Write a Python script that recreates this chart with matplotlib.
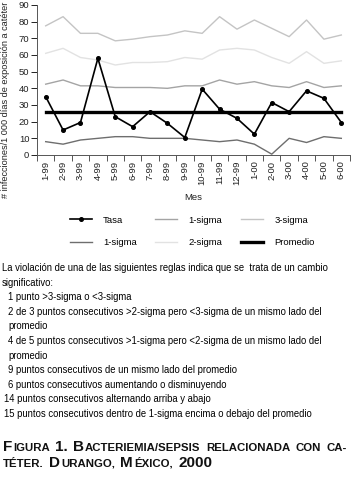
import matplotlib.pyplot as plt
import numpy as np

# Datos del gráfico de control
meses = ['1-99', '2-99', '3-99', '4-99', '5-99', '6-99', '7-99', '8-99', '9-99',
         '10-99', '11-99', '12-99', '1-00', '2-00', '3-00', '4-00', '5-00', '6-00']
tasa = [35, 15, 19.5, 58, 23, 17, 26, 19, 10.5, 39.5, 27.5, 22, 12.5, 31.5, 26, 38.5, 34, 19.5]
sigma3_sup = [77.5, 83, 73, 73, 68.5, 69.5, 71, 72, 74.5, 73, 83, 75.5, 81, 76, 71, 81, 69.5, 72]
sigma2_sup = [61, 64, 58.5, 57, 54, 55.5, 55.5, 56, 58.5, 57.5, 63, 64, 63, 58.5, 55, 62, 55, 56.5]
sigma1_sup = [42.5, 45, 41.5, 41.5, 40.5, 40.5, 40.5, 40, 41.5, 41.5, 45, 42.5, 44, 41.5, 40.5, 44, 40.5, 41.5]
sigma1_inf = [8, 6.5, 9, 10, 11, 11, 10, 10, 10, 9, 8, 9, 6.5, 0.5, 10, 7.5, 11, 10]
promedio = 25.6

reglas = [
    (0.006, 'La violación de una de las siguientes reglas indica que se  trata de un cambio'),
    (0.006, 'significativo:'),
    (0.023, '1 punto >3-sigma o <3-sigma'),
    (0.023, '2 de 3 puntos consecutivos >2-sigma pero <3-sigma de un mismo lado del'),
    (0.023, 'promedio'),
    (0.023, '4 de 5 puntos consecutivos >1-sigma pero <2-sigma de un mismo lado del'),
    (0.023, 'promedio'),
    (0.023, '9 puntos consecutivos de un mismo lado del promedio'),
    (0.023, '6 puntos consecutivos aumentando o disminuyendo'),
    (0.012, '14 puntos consecutivos alternando arriba y abajo'),
    (0.012, '15 puntos consecutivos dentro de 1-sigma encima o debajo del promedio'),
]

W, H = 353, 483
fig = plt.figure(figsize=(W / 100, H / 100), dpi=100)
plt.rcParams['font.family'] = ['Liberation Sans', 'DejaVu Sans']

ax = fig.add_axes([37 / W, 1 - 155 / H, 313 / W, 150 / H])
x = np.arange(len(meses))

l3, = ax.plot(x, sigma3_sup, color='#c4c4c4', lw=1.0, label='3-sigma')
l2, = ax.plot(x, sigma2_sup, color='#e2e2e2', lw=1.0, label='2-sigma')
l1s, = ax.plot(x, sigma1_sup, color='#a4a4a4', lw=1.0, label='1-sigma')
l1i, = ax.plot(x, sigma1_inf, color='#6e6e6e', lw=1.0, label='1-sigma')
lp, = ax.plot(x, [promedio] * len(x), color='black', lw=2.4, label='Promedio')
lt, = ax.plot(x, tasa, color='black', lw=1.2, marker='o', markersize=2.6, label='Tasa')

ax.set_xlim(-0.5, len(meses) - 0.5)
ax.set_ylim(0, 90)
ax.set_yticks(range(0, 91, 10))
ax.set_xticks(np.arange(-0.5, len(meses), 1.0))
ax.set_xticklabels([])
ax.set_xticks(x, minor=True)
ax.set_xticklabels(meses, minor=True, rotation=90)
ax.tick_params(axis='x', which='minor', length=0, pad=4, labelsize=6.8, colors='#222222')
ax.tick_params(axis='x', which='major', length=4, width=0.7, color='#555555')
ax.tick_params(axis='y', length=4, width=0.7, labelsize=6.8, pad=1.5, colors='#222222')
for s in ['top', 'right']:
    ax.spines[s].set_visible(False)
for s in ['left', 'bottom']:
    ax.spines[s].set_linewidth(0.7)
    ax.spines[s].set_color('#555555')

fig.text(6 / W, 1 - 198 / H, '# infecciones/1 000 días de exposición a catéter',
         rotation=90, ha='center', va='bottom', fontsize=6.6, color='#222222')
fig.text(193 / W, 1 - 197 / H, 'Mes', ha='center', va='center', fontsize=6.8, color='#222222')

leg = fig.legend([lt, l1i, l1s, l2, l3, lp],
                 ['Tasa', '1-sigma', '1-sigma', '2-sigma', '3-sigma', 'Promedio'],
                 loc='upper left', bbox_to_anchor=(66 / W, 1 - 212 / H), ncol=3,
                 frameon=False, fontsize=6.8, handlelength=2.3, handletextpad=1.2,
                 columnspacing=2.0, labelspacing=1.45, borderaxespad=0)

# Texto de reglas
y0 = 268
for i, (xx, linea) in enumerate(reglas):
    fig.text(xx, 1 - (y0 + i * 14.6) / H, linea, ha='left', va='center',
             fontsize=6.85, color='black')

# Leyenda de la figura en versalitas
renderer = fig.canvas.get_renderer()
grande, chica = 11.0, 8.2
lineas_titulo = [
    [('F', 1), ('IGURA', 0), (' ', 0), ('1. B', 1), ('ACTERIEMIA/SEPSIS', 0), (' ', 0),
     ('RELACIONADA', 0), (' ', 0), ('CON', 0), (' ', 0), ('CA-', 0)],
    [('TÉTER.', 0), (' ', 0), ('D', 1), ('URANGO,', 0), (' ', 0), ('M', 1), ('ÉXICO,', 0),
     (' ', 0), ('2000', 1)],
]
ys = [451, 467]
espacio = 4.8
for yl, partes in zip(ys, lineas_titulo):
    xp = 3.0
    for seg, big in partes:
        if seg == ' ':
            xp += espacio
            continue
        if seg.startswith('1. '):
            t = fig.text(xp / W, 1 - yl / H, '1.', fontsize=grande, fontweight='bold',
                         va='baseline', ha='left', color='#111111')
            xp += t.get_window_extent(renderer).width + espacio
            seg = seg[3:]
        t = fig.text(xp / W, 1 - yl / H, seg, fontsize=grande if big else chica,
                     fontweight='bold', va='baseline', ha='left', color='#111111')
        xp += t.get_window_extent(renderer).width + 0.8

fig.savefig('out.png', dpi=100, facecolor='white')
